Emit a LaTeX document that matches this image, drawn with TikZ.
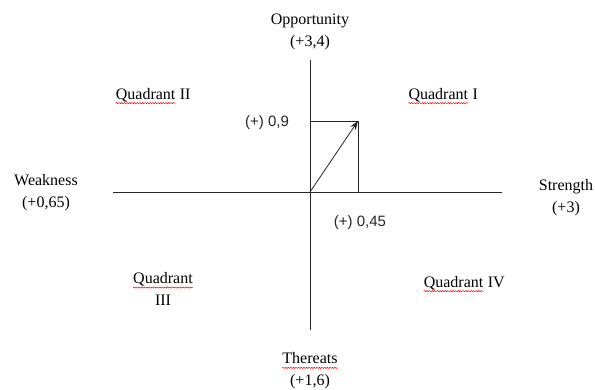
\documentclass[tikz,border=0pt]{standalone}
\usepackage{fontspec}
\setmainfont{Liberation Serif}
\newfontfamily\valfont{Liberation Sans}
\usetikzlibrary{decorations.pathmorphing, arrows.meta}

% word with a spell-check underline
\newcommand{\spellmark}[1]{\tikz[baseline=(w.base)]{\node[inner sep=0pt] (w) {#1};
	\draw[red, line width=0.5pt, decorate, decoration={snake, amplitude=0.6pt, segment length=2.6pt}]
		([yshift=-4pt]w.base west) -- ([yshift=-4pt]w.base east);}}

\begin{document}
\begin{tikzpicture}[>={Stealth[length=9pt, width=6.5pt]}, x=1pt, y=-1pt]
	\tikzstyle{axis} = [draw, black!85, line width=0.8pt]
	\tikzstyle{axistext} = [align=center, inner sep=0pt, font=\fontsize{16}{22}\selectfont]
	\tikzstyle{valtext} = [inner sep=0pt, font=\valfont\fontsize{15}{18}\selectfont, black!85]
	\useasboundingbox (0,0) rectangle (595,390);

	\coordinate (O) at (310,192);
	\coordinate (N) at (310,60);
	\coordinate (S) at (310,330);
	\coordinate (W) at (113,192);
	\coordinate (E) at (502,192);
	\coordinate (P) at (358,121);
	\coordinate (Px) at (358,192);
	\coordinate (Py) at (310,121);

	% axes and the vector box
	\draw[axis] (W) -- (E);
	\draw[axis] (N) -- (S);
	\draw[axis] (Py) -- (P) -- (Px);
	\draw[axis, ->] (O) -- (P);

	\node[axistext] (opp) at (310,32) {Opportunity\\(+3,4)};
	\node[axistext] (thr) at (310,371) {\spellmark{Thereats}\\(+1,6)};
	\node[axistext] (wea) at (46,193) {Weakness\\(+0,65)};
	\node[axistext] (str) at (566,198) {Strength\\(+3)};

	\node[axistext] (q1) at (443,96) {\spellmark{Quadrant} I};
	\node[axistext] (q2) at (153,96) {\spellmark{Quadrant} II};
	\node[axistext] (q3) at (163,289) {\spellmark{Quadrant}\\III};
	\node[axistext] (q4) at (464,284) {\spellmark{Quadrant} IV};

	\node[valtext] (vy) at (267,123) {(+) 0,9};
	\node[valtext] (vx) at (360,223) {(+) 0,45};
\end{tikzpicture}
\end{document}
